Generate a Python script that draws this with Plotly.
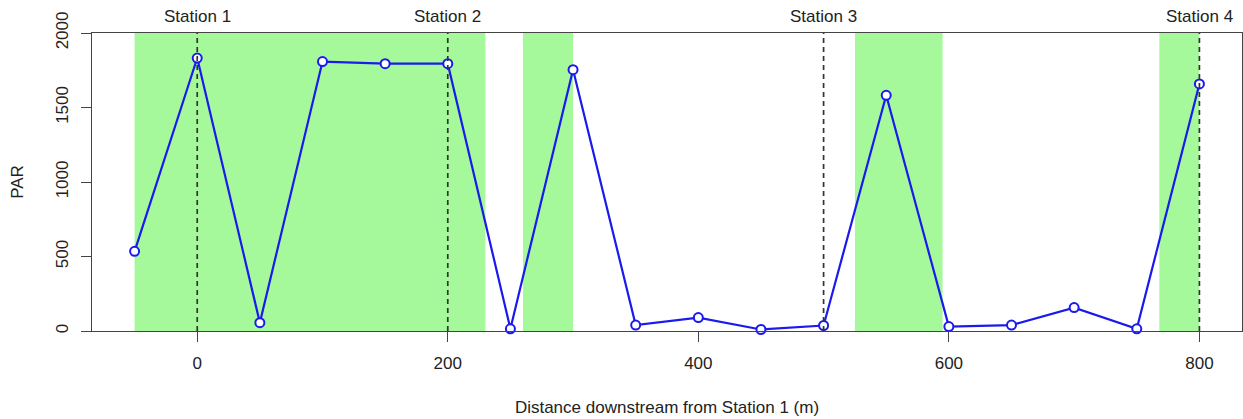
import plotly.graph_objects as go

distance = [-50, 0, 50, 100, 150, 200, 250, 300, 350, 400, 450, 500, 550, 600, 650, 700, 750, 800]
par = [535, 1832, 56, 1808, 1794, 1794, 15, 1754, 40, 90, 10, 37, 1582, 30, 40, 157, 15, 1658]

station_names = ["Station 1", "Station 2", "Station 3", "Station 4"]
station_pos = [0, 200, 500, 800]

shade_start = [-50, 260, 525, 768]
shade_end = [230, 300, 595, 800]

x_ticks = [0, 200, 400, 600, 800]
y_ticks = [0, 500, 1000, 1500, 2000]

FONT = "Liberation Sans, Arial, Helvetica, sans-serif"
GREEN = "#A6F99B"
BLUE = "#1A1AEE"
AXIS = "#444444"
TEXT = "#222222"

fig = go.Figure()

fig.add_trace(go.Scatter(
    x=distance, y=par, mode="lines+markers",
    line=dict(color=BLUE, width=2.2),
    marker=dict(symbol="circle", size=9, color="white",
                line=dict(color=BLUE, width=2)),
    cliponaxis=False, showlegend=False, hoverinfo="x+y",
))

shapes = []
for s, e in zip(shade_start, shade_end):
    shapes.append(dict(type="rect", xref="x", yref="paper", x0=s, x1=e, y0=0, y1=1,
                       fillcolor=GREEN, line=dict(width=0), layer="below"))
for p in station_pos:
    shapes.append(dict(type="line", xref="x", yref="paper", x0=p, x1=p, y0=0, y1=1,
                       line=dict(color="#333333", width=1.7, dash="5px,4px"), layer="above"))

annotations = []
for name, p in zip(station_names, station_pos):
    annotations.append(dict(x=p, y=1, xref="x", yref="paper", text=name, showarrow=False,
                            xanchor="center", yanchor="bottom", yshift=5,
                            font=dict(family=FONT, size=17, color=TEXT)))

fig.update_layout(
    width=1243, height=419,
    margin=dict(l=92, r=1, t=33, b=88),
    paper_bgcolor="white", plot_bgcolor="white",
    shapes=shapes, annotations=annotations,
    font=dict(family=FONT, size=17, color=TEXT),
    xaxis=dict(
        range=[-84, 834], tickvals=x_ticks, ticktext=[str(v) for v in x_ticks],
        showgrid=False, zeroline=False, showline=True, mirror=True,
        linecolor=AXIS, linewidth=1, ticks="outside", ticklen=10, tickcolor=AXIS,
        ticklabelstandoff=7,
        tickfont=dict(family=FONT, size=17, color=TEXT),
        title=dict(text="Distance downstream from Station 1 (m)", standoff=28,
                   font=dict(family=FONT, size=17, color=TEXT)),
    ),
    yaxis=dict(
        range=[0, 2000], tickvals=y_ticks, ticktext=[str(v) for v in y_ticks],
        showgrid=False, zeroline=False, showline=True, mirror=True,
        linecolor=AXIS, linewidth=1, ticks="outside", ticklen=10, tickcolor=AXIS,
        tickangle=-90, ticklabelstandoff=6,
        tickfont=dict(family=FONT, size=17, color=TEXT),
        title=dict(text="PAR", standoff=25,
                   font=dict(family=FONT, size=17, color=TEXT)),
    ),
)

fig.write_html("out.html")
